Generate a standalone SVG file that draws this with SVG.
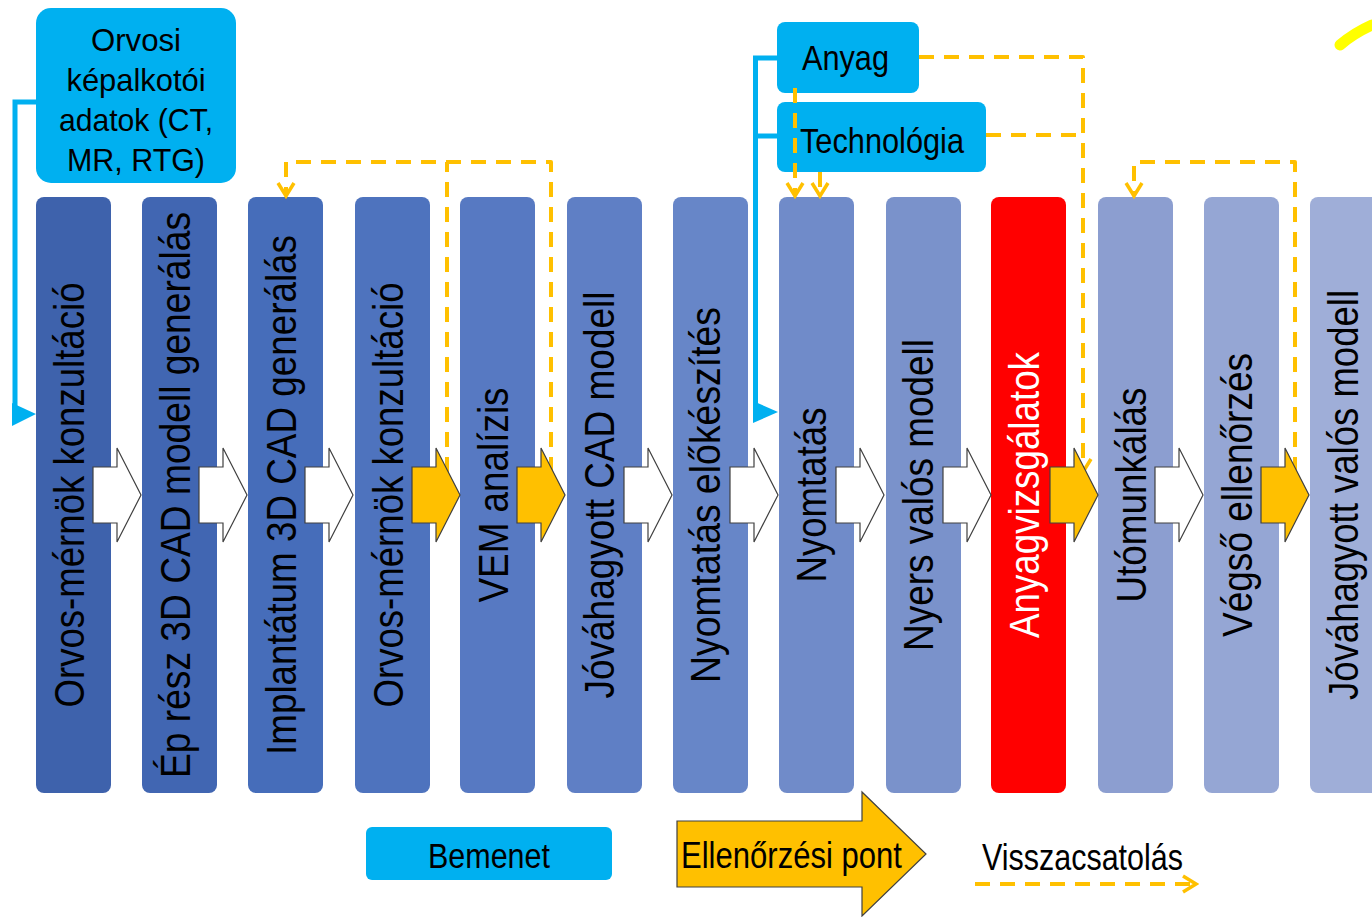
<svg xmlns="http://www.w3.org/2000/svg" width="1372" height="917" viewBox="0 0 1372 917">
<defs>
<style>
.col{stroke:none}
.ct{font-family:"Liberation Sans",Arial,sans-serif;font-size:43px;fill:#000;text-anchor:middle}
.bx{fill:#00B0F0}
.bt{font-family:"Liberation Sans",Arial,sans-serif;fill:#000;text-anchor:middle}
.blue{fill:none;stroke:#00B0F0;stroke-width:5}
.dash{fill:none;stroke:#FFC000;stroke-width:4;stroke-dasharray:15 10;stroke-linejoin:round}
.wa{fill:#FFFFFF;stroke:#404040;stroke-width:1.2}
.ya{fill:#FFC000;stroke:#404040;stroke-width:1.2}
</style>
<marker id="chev" markerUnits="userSpaceOnUse" markerWidth="18" markerHeight="20" viewBox="0 0 18 20" refX="15" refY="10" orient="auto">
<path d="M2,2 L15,10 L2,18" fill="none" stroke="#FFC000" stroke-width="3.5"/>
</marker>
<path id="barrow" d="M0,-28 H24 V-47 L48,0 L24,47 V28 H0 Z"/>
</defs>
<rect width="1372" height="917" fill="#FFFFFF"/>

<g id="col1"><rect class="col" x="36" y="197" width="75" height="596" rx="8" fill="#3E62AC"/><text class="ct" transform="translate(84,495) rotate(-90)" textLength="425" lengthAdjust="spacingAndGlyphs">Orvos-mérnök konzultáció</text></g>
<g id="col2"><rect class="col" x="142" y="197" width="75" height="596" rx="8" fill="#4166B2"/><text class="ct" transform="translate(190,495) rotate(-90)" textLength="566" lengthAdjust="spacingAndGlyphs">Ép rész 3D CAD modell generálás</text></g>
<g id="col3"><rect class="col" x="248" y="197" width="75" height="596" rx="8" fill="#466DBA"/><text class="ct" transform="translate(296,495) rotate(-90)" textLength="520" lengthAdjust="spacingAndGlyphs">Implantátum 3D CAD generálás</text></g>
<g id="col4"><rect class="col" x="355" y="197" width="75" height="596" rx="8" fill="#4E73BE"/><text class="ct" transform="translate(403,495) rotate(-90)" textLength="425" lengthAdjust="spacingAndGlyphs">Orvos-mérnök konzultáció</text></g>
<g id="col5"><rect class="col" x="460" y="197" width="75" height="596" rx="8" fill="#5779C2"/><text class="ct" transform="translate(508,495) rotate(-90)" textLength="215" lengthAdjust="spacingAndGlyphs">VEM analízis</text></g>
<g id="col6"><rect class="col" x="567" y="197" width="75" height="596" rx="8" fill="#5F7FC5"/><text class="ct" transform="translate(614,495) rotate(-90)" textLength="407" lengthAdjust="spacingAndGlyphs">Jóváhagyott CAD modell</text></g>
<g id="col7"><rect class="col" x="673" y="197" width="75" height="596" rx="8" fill="#6786C8"/><text class="ct" transform="translate(720,495) rotate(-90)" textLength="376" lengthAdjust="spacingAndGlyphs">Nyomtatás előkészítés</text></g>
<g id="col8"><rect class="col" x="779" y="197" width="75" height="596" rx="8" fill="#708BC9"/><text class="ct" transform="translate(826,495) rotate(-90)" textLength="175" lengthAdjust="spacingAndGlyphs">Nyomtatás</text></g>
<g id="col9"><rect class="col" x="886" y="197" width="75" height="596" rx="8" fill="#7A92CB"/><text class="ct" transform="translate(933,495) rotate(-90)" textLength="312" lengthAdjust="spacingAndGlyphs">Nyers valós modell</text></g>
<g id="col10"><rect class="col" x="991" y="197" width="75" height="596" rx="8" fill="#FF0000"/><text class="ct" style="fill:#FFFFFF" transform="translate(1039,495) rotate(-90)" textLength="286" lengthAdjust="spacingAndGlyphs">Anyagvizsgálatok</text></g>
<g id="col11"><rect class="col" x="1098" y="197" width="75" height="596" rx="8" fill="#8C9ED0"/><text class="ct" transform="translate(1146,495) rotate(-90)" textLength="215" lengthAdjust="spacingAndGlyphs">Utómunkálás</text></g>
<g id="col12"><rect class="col" x="1204" y="197" width="75" height="596" rx="8" fill="#95A6D4"/><text class="ct" transform="translate(1252,495) rotate(-90)" textLength="284" lengthAdjust="spacingAndGlyphs">Végső ellenőrzés</text></g>
<g id="col13"><rect class="col" x="1310" y="197" width="75" height="596" rx="8" fill="#9FAED8"/><text class="ct" transform="translate(1358,495) rotate(-90)" textLength="410" lengthAdjust="spacingAndGlyphs">Jóváhagyott valós modell</text></g>

<g id="input-imaging"><rect class="bx" x="36" y="8" width="200" height="175" rx="15"/>
<text class="bt" font-size="32" x="136" y="51" textLength="90" lengthAdjust="spacingAndGlyphs">Orvosi</text>
<text class="bt" font-size="32" x="136" y="91" textLength="139" lengthAdjust="spacingAndGlyphs">képalkotói</text>
<text class="bt" font-size="32" x="136" y="131" textLength="154" lengthAdjust="spacingAndGlyphs">adatok (CT,</text>
<text class="bt" font-size="32" x="136" y="171" textLength="138" lengthAdjust="spacingAndGlyphs">MR, RTG)</text></g>
<g id="input-anyag"><rect class="bx" x="777" y="22" width="142" height="71" rx="8"/><text class="bt" font-size="35" x="845.5" y="70" textLength="87" lengthAdjust="spacingAndGlyphs">Anyag</text></g>
<g id="input-tech"><rect class="bx" x="777" y="102" width="209" height="70" rx="8"/><text class="bt" font-size="35" x="882" y="153" textLength="164" lengthAdjust="spacingAndGlyphs">Technológia</text></g>

<g id="connectors">
<path class="blue" d="M36,102 H15 V414 H24"/>
<polygon points="12,403 36,414 12,426" fill="#00B0F0"/>
<path class="blue" d="M777,58 H755.5 V412"/>
<path class="blue" d="M777,136 H755.5"/>
<polygon points="753,401 778,412 753,423" fill="#00B0F0"/>
<path class="dash" d="M795,88 V196" marker-end="url(#chev)"/>
<path class="dash" d="M820,172 V196" marker-end="url(#chev)"/>
<path class="dash" d="M919,57 H1083 V472" marker-end="url(#chev)"/>
<path class="dash" d="M986,135 H1083"/>
<path class="dash" d="M551,472 V162 H286 V196" marker-end="url(#chev)"/>
<path class="dash" d="M447,472 V162"/>
<path class="dash" d="M1295,472 V162 H1134 V196" marker-end="url(#chev)"/>
</g>

<g id="flow-arrows">
<use href="#barrow" class="wa" x="93" y="495"/>
<use href="#barrow" class="wa" x="199" y="495"/>
<use href="#barrow" class="wa" x="305" y="495"/>
<use href="#barrow" class="ya" x="412" y="495"/>
<use href="#barrow" class="ya" x="517" y="495"/>
<use href="#barrow" class="wa" x="624" y="495"/>
<use href="#barrow" class="wa" x="730" y="495"/>
<use href="#barrow" class="wa" x="836" y="495"/>
<use href="#barrow" class="wa" x="943" y="495"/>
<use href="#barrow" class="ya" x="1050" y="495"/>
<use href="#barrow" class="wa" x="1155" y="495"/>
<use href="#barrow" class="ya" x="1261" y="495"/>
</g>

<path d="M1340,45 Q1354,33 1372,25" fill="none" stroke="#FFFF00" stroke-width="11" stroke-linecap="round"/>

<g id="legend">
<g id="legend-input"><rect class="bx" x="366" y="827" width="246" height="53" rx="6"/><text class="bt" font-size="35" x="489" y="868" textLength="122" lengthAdjust="spacingAndGlyphs">Bemenet</text></g>
<g id="legend-check"><path class="ya" d="M677,821 H862 V792 L926,854 L862,916 V887 H677 Z"/><text class="bt" font-size="36" x="791.5" y="868" textLength="221" lengthAdjust="spacingAndGlyphs">Ellenőrzési pont</text></g>
<g id="legend-feedback"><text class="bt" font-size="36" x="1082.5" y="870" textLength="201" lengthAdjust="spacingAndGlyphs">Visszacsatolás</text>
<path class="dash" d="M975,884 H1196" marker-end="url(#chev)"/></g>
</g>
</svg>
